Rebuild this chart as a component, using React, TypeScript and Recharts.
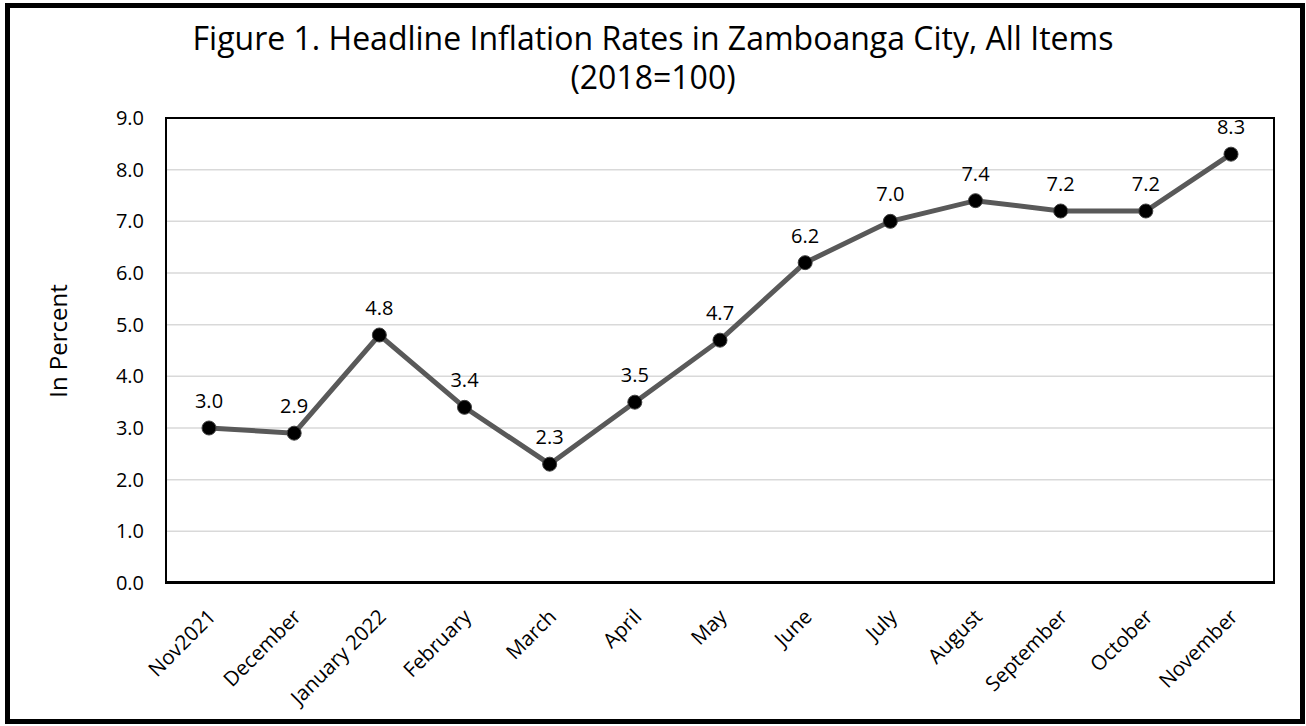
import { LineChart, Line, XAxis, YAxis, CartesianGrid, LabelList } from 'recharts';

const months = ['Nov2021', 'December', 'January 2022', 'February', 'March', 'April', 'May', 'June', 'July', 'August', 'September', 'October', 'November'];
const rates = [3.0, 2.9, 4.8, 3.4, 2.3, 3.5, 4.7, 6.2, 7.0, 7.4, 7.2, 7.2, 8.3];
const yTicks = [0, 1, 2, 3, 4, 5, 6, 7, 8, 9];

const data = months.map((m, i) => ({ month: m, rate: rates[i] }));

const FONT = '"Open Sans", sans-serif';

const MonthTick = (props: any) => {
  const { x, y, payload } = props;
  return (
    <g transform={`translate(${x + 8},${y + 27})`}>
      <text textAnchor="end" transform="rotate(-45)" fontSize={20.5} fill="#000" fontFamily={FONT}>
        {payload.value}
      </text>
    </g>
  );
};

export default function App() {
  return (
    <div style={{ position: 'absolute', left: 0, top: 0, width: 1306, height: 726, background: '#fff' }}>
      <div
        style={{
          position: 'absolute',
          left: 0,
          top: 18,
          width: 1306,
          textAlign: 'center',
          fontFamily: FONT,
          fontSize: 32,
          lineHeight: '39px',
          color: '#000',
        }}
      >
        Figure 1. Headline Inflation Rates in Zamboanga City, All Items
        <br />
        (2018=100)
      </div>
      <div
        style={{
          position: 'absolute',
          left: 57,
          top: 341,
          transform: 'translate(-50%, -50%) rotate(-90deg)',
          fontFamily: FONT,
          fontSize: 24,
          whiteSpace: 'nowrap',
          color: '#000',
        }}
      >
        In Percent
      </div>
      <div style={{ position: 'absolute', left: 0, top: 0 }}>
        <LineChart
          width={1306}
          height={726}
          data={data}
          margin={{ top: 118, left: 106, right: 32, bottom: 43 }}
        >
          <CartesianGrid vertical={false} stroke="#d9d9d9" strokeWidth={1.5} />
          <XAxis
            dataKey="month"
            height={100}
            padding={{ left: 43, right: 43 }}
            tickLine={false}
            axisLine={false}
            tick={<MonthTick />}
            interval={0}
          />
          <YAxis
            width={60}
            domain={[0, 9]}
            ticks={yTicks}
            tickFormatter={(v: number) => v.toFixed(1)}
            tickLine={false}
            tickSize={0}
            tickMargin={22}
            axisLine={false}
            tick={{ fill: '#000', fontSize: 20, fontFamily: FONT }}
            interval={0}
          />
          <Line
            type="linear"
            dataKey="rate"
            stroke="#595959"
            strokeWidth={5}
            dot={{ r: 7, fill: '#000', stroke: '#404040', strokeWidth: 1 }}
            activeDot={false}
            isAnimationActive={false}
          >
            <LabelList
              dataKey="rate"
              position="top"
              offset={20}
              formatter={(v: any) => Number(v).toFixed(1)}
              style={{ fill: '#000', fontSize: 20, fontFamily: FONT }}
            />
          </Line>
        </LineChart>
      </div>
      {/* plot frame */}
      <div
        style={{
          position: 'absolute',
          left: 165,
          top: 117,
          width: 1110,
          height: 467,
          boxSizing: 'border-box',
          borderStyle: 'solid',
          borderColor: '#000',
          borderWidth: '2px 2px 3px 2px',
          pointerEvents: 'none',
        }}
      />
      {/* outer frame */}
      <div
        style={{
          position: 'absolute',
          left: 5,
          top: 3,
          width: 1300,
          height: 721,
          border: '5px solid #000',
          boxSizing: 'border-box',
          pointerEvents: 'none',
        }}
      />
    </div>
  );
}
